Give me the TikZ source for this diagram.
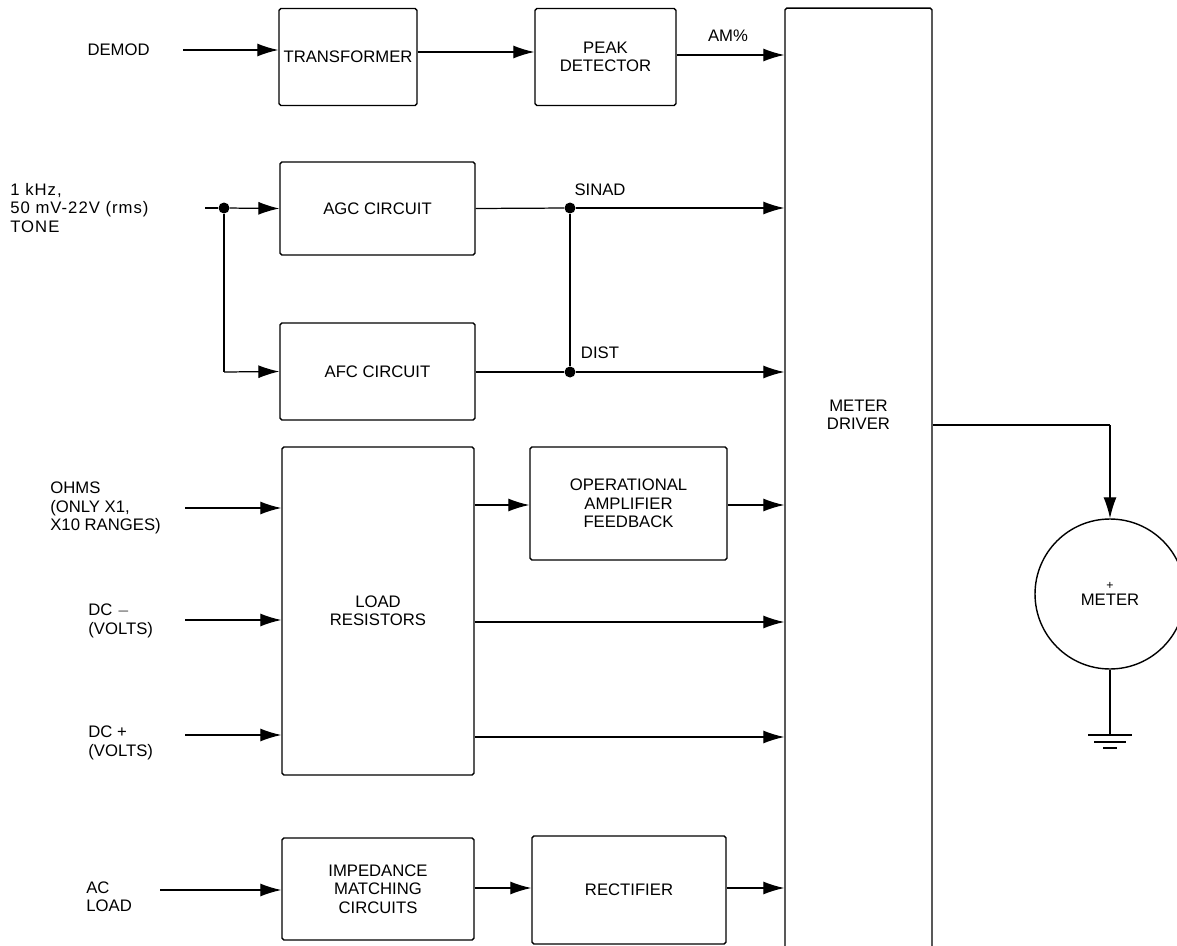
\documentclass[tikz,border=0pt]{standalone}
\usepackage{fontspec}
\setmainfont{Liberation Sans}
\usetikzlibrary{arrows.meta}
\begin{document}
\begin{tikzpicture}[x=0.02cm,y=-0.02cm,
  font=\fontsize{9.5}{10.5}\selectfont,
  box/.style={draw,line width=0.8pt,rounded corners=1pt,align=center,inner sep=0pt},
  lbl/.style={align=left,inner sep=0pt},
  arr/.style={line width=0.7pt,-{Latex[length=0.42cm,width=0.26cm]}},
  wire/.style={line width=0.7pt},
  dot/.style={circle,fill,inner sep=0pt,minimum size=0.22cm}]
\useasboundingbox (0,0) rectangle (1177,946);

% boxes
\node[box,minimum width=2.76cm,minimum height=1.94cm] (trans) at (348,57) {TRANSFORMER};
\node[box,minimum width=2.82cm,minimum height=1.94cm] (peak) at (605.5,57) {PEAK\\DETECTOR};
\node[box,minimum width=2.94cm,minimum height=18.84cm] (driver) at (858.5,479) {};
\node[inner sep=0pt,align=center] (drvtxt) at (858.5,415) {METER\\DRIVER};
\node[box,minimum width=3.9cm,minimum height=1.86cm] (agc) at (377.5,208.5) {AGC CIRCUIT};
\node[box,minimum width=3.9cm,minimum height=1.94cm] (afc) at (377.5,371.5) {AFC CIRCUIT};
\node[box,minimum width=3.84cm,minimum height=6.56cm] (load) at (378,611) {LOAD\\RESISTORS};
\node[box,minimum width=3.94cm,minimum height=2.26cm] (opamp) at (628.5,503.5) {OPERATIONAL\\AMPLIFIER\\FEEDBACK};
\node[box,minimum width=3.84cm,minimum height=2.04cm] (imp) at (378,889) {IMPEDANCE\\MATCHING\\CIRCUITS};
\node[box,minimum width=3.88cm,minimum height=2.16cm] (rect) at (629,890) {RECTIFIER};
\node[draw,circle,line width=0.8pt,minimum size=3.0cm,inner sep=0pt,align=center] (meter) at (1110,594) {{\scriptsize +}\\[-1pt]METER};

% input labels
\node[lbl,anchor=east] (demod) at (150,50) {DEMOD};
\node[lbl,anchor=west,font=\fontsize{9.5}{10.5}\selectfont\addfontfeatures{LetterSpace=6}] (tone) at (10,208) {1 kHz,\\50 mV-22V (rms)\\TONE};
\node[lbl,anchor=west] (ohms) at (50,508) {OHMS\\(ONLY X1,\\X10 RANGES)};
\node[lbl,anchor=west] (dcm) at (88,621) {DC $-$\\(VOLTS)};
\node[lbl,anchor=west] (dcp) at (88,743) {DC +\\(VOLTS)};
\node[lbl,anchor=west] (ac) at (86,897) {AC\\LOAD};

% connector labels
\node[inner sep=0pt] (am) at (728,36) {AM\%};
\node[inner sep=0pt] (sinad) at (600,190) {SINAD};
\node[inner sep=0pt] (dist) at (600,353) {DIST};

% junctions and corners
\node[dot] (j1) at (224,208) {};
\node[dot] (j2) at (570,208) {};
\node[dot] (j3) at (570,372) {};
\coordinate (c1) at (224,372);
\coordinate (c2) at (1110,425);
\coordinate (gnd) at (1110,735);
\coordinate (t0) at (205,208);
\coordinate (d0) at (183,50);
\coordinate (o0) at (185,508);
\coordinate (m0) at (185,620);
\coordinate (p0) at (185,735);
\coordinate (a0) at (160,890);

% top row
\draw[arr] (d0) -- (trans.west |- d0);
\draw[arr] (trans.east |- 0,52) -- (peak.west |- 0,52);
\draw[arr] (peak.east |- 0,55) -- (driver.west |- 0,55);

% tone
\draw[wire] (t0) -- (j1);
\draw[arr] (j1) -- (agc.west);
\draw[wire] (j1) -- (c1);
\draw[arr] (c1) -- (afc.west);
\draw[wire] (agc.east) -- (j2);
\draw[arr] (j2) -- (driver.west |- j2);
\draw[wire] (afc.east |- j3) -- (j3);
\draw[arr] (j3) -- (driver.west |- j3);
\draw[wire] (j2) -- (j3);

% load resistors
\draw[arr] (o0) -- (load.west |- o0);
\draw[arr] (load.east |- 0,505) -- (opamp.west |- 0,505);
\draw[arr] (opamp.east |- 0,505) -- (driver.west |- 0,505);
\draw[arr] (m0) -- (load.west |- m0);
\draw[arr] (load.east |- 0,622) -- (driver.west |- 0,622);
\draw[arr] (p0) -- (load.west |- p0);
\draw[arr] (load.east |- 0,737) -- (driver.west |- 0,737);

% ac load
\draw[arr] (a0) -- (imp.west |- a0);
\draw[arr] (imp.east |- 0,888) -- (rect.west |- 0,888);
\draw[arr] (rect.east |- 0,888) -- (driver.west |- 0,888);

% meter
\draw[wire] (driver.east |- c2) -- (c2);
\draw[arr] (c2) -- (meter.north);
\draw[wire] (meter.south) -- (gnd);
\draw[wire] (1088,735) -- (1132,735);
\draw[wire] (1094,742) -- (1126,742);
\draw[wire] (1103,748) -- (1117,748);
\end{tikzpicture}
\end{document}
